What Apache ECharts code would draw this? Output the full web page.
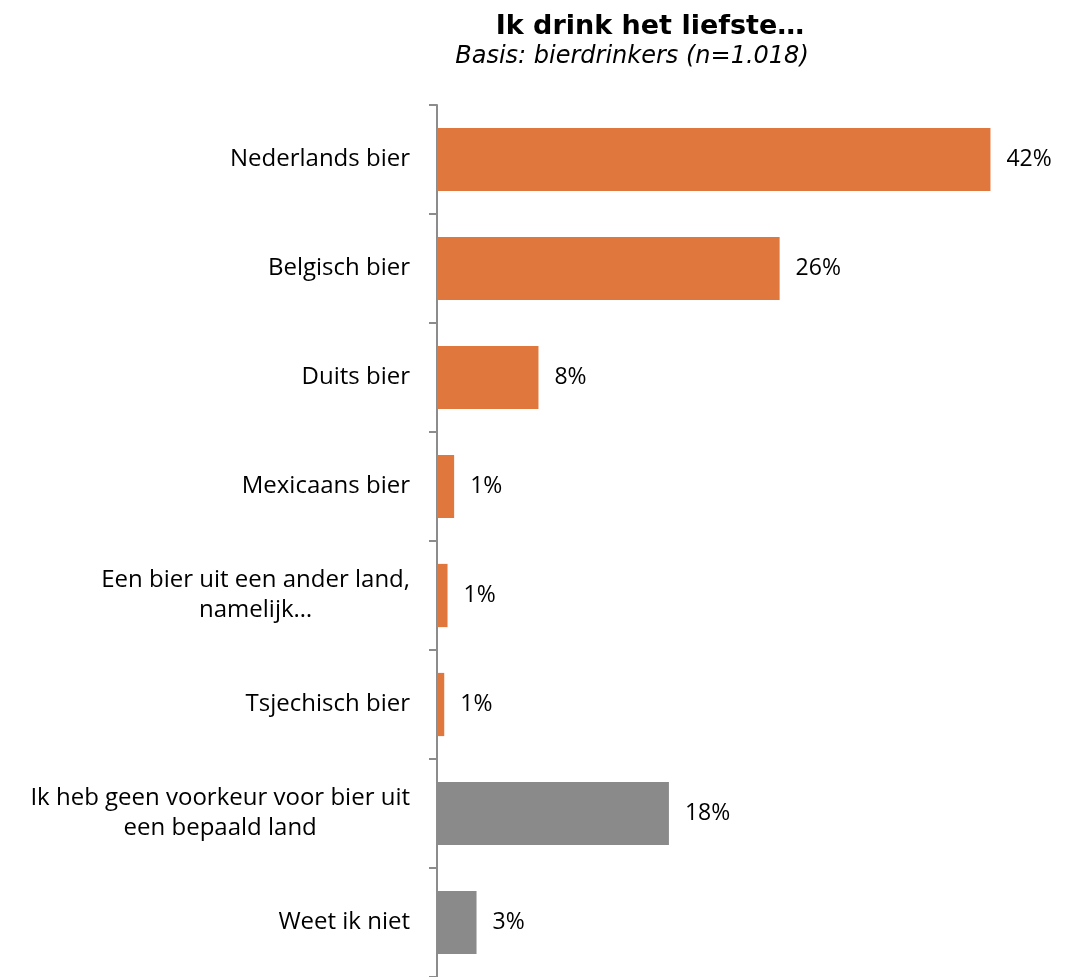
<!DOCTYPE html>
<html>
<head>
<meta charset="utf-8">
<title>Ik drink het liefste…</title>
<script src="https://cdn.jsdelivr.net/npm/echarts@6/dist/echarts.min.js"></script>
<style>
  html, body { margin: 0; padding: 0; background: #ffffff; }
  #chart { width: 1071px; height: 977px; }
</style>
</head>
<body>
<div id="chart"></div>
<script>
// Beer preference by country (share of beer drinkers, %)
const categories = [
  'Nederlands bier',
  'Belgisch bier',
  'Duits bier',
  'Mexicaans bier',
  'Een bier uit een ander land,\nnamelijk…',
  'Tsjechisch bier',
  'Ik heb geen voorkeur voor bier uit\neen bepaald land',
  'Weet ik niet'
];
const values = [42, 26, 7.7, 1.3, 0.8, 0.55, 17.6, 3];
// Country answers in orange, "no preference / don't know" in grey
const barColors = ['#E0783E', '#E0783E', '#E0783E', '#E0783E', '#E0783E', '#E0783E', '#8A8A8A', '#8A8A8A'];

const font = '"Open Sans", "Noto Sans", sans-serif';
const titleFont = '"DejaVu Sans", Verdana, sans-serif';

const chart = echarts.init(document.getElementById('chart'), null, { renderer: 'canvas' });
chart.setOption({
  animation: false,
  backgroundColor: '#ffffff',
  title: [
    {
      text: 'Ik drink het liefste…',
      left: 645, top: 8, textAlign: 'center',
      textStyle: { fontFamily: titleFont, fontSize: 27, fontWeight: 'bold', color: '#000000' }
    },
    {
      text: 'Basis: bierdrinkers (n=1.018)',
      left: 627, top: 40, textAlign: 'center',
      textStyle: { fontFamily: titleFont, fontSize: 24, fontStyle: 'italic', fontWeight: 'normal', color: '#000000' }
    }
  ],
  grid: { left: 437, right: 41, top: 105, bottom: 0, containLabel: false },
  xAxis: {
    type: 'value', min: 0, max: 45,
    show: false
  },
  yAxis: {
    type: 'category',
    inverse: true,
    data: categories,
    axisLine: { show: true, lineStyle: { color: '#8C8C8C', width: 2 } },
    axisTick: { show: true, length: 8, lineStyle: { color: '#8C8C8C', width: 2 } },
    axisLabel: {
      margin: 27, color: '#000000', align: 'right',
      // each line centred inside a right-anchored block
      formatter: v => v.split('\n').map(line => '{c|' + line + '}').join('\n'),
      rich: {
        c: { align: 'center', fontFamily: font, fontSize: 24, lineHeight: 30, color: '#000000' }
      }
    },
    splitLine: { show: false }
  },
  series: [{
    type: 'bar',
    barWidth: '58%',
    data: values.map((v, i) => ({ value: v, itemStyle: { color: barColors[i] } })),
    label: {
      show: true, position: 'right', distance: 16,
      fontFamily: font, fontSize: 23, color: '#000000',
      formatter: p => Math.round(p.value) + '%'
    }
  }]
});
</script>
</body>
</html>
